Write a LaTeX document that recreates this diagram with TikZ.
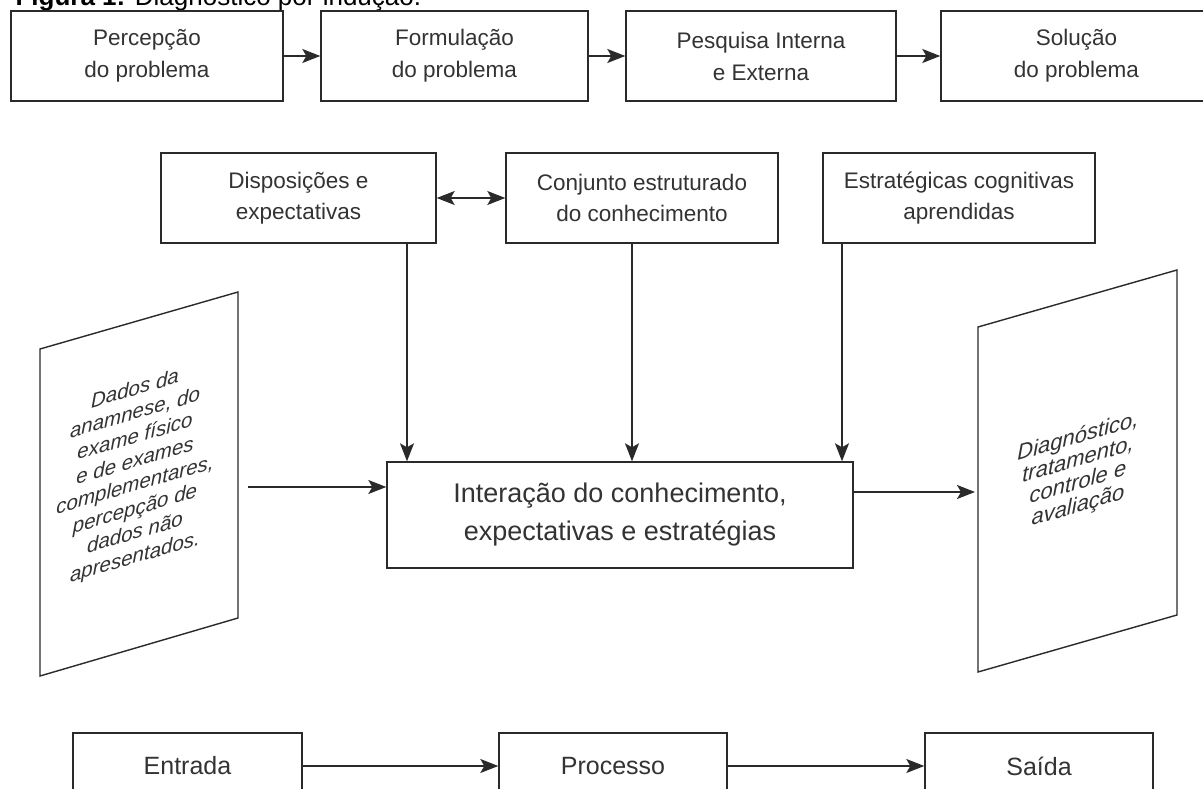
\documentclass[tikz,border=0pt]{standalone}
\usepackage{fontspec}
\setmainfont{Liberation Sans}
\usetikzlibrary{arrows.meta}
\definecolor{ink}{HTML}{2A2A2A}
\definecolor{txt}{HTML}{333333}
\tikzstyle{topbox}=[rectangle,draw=ink,line width=1.4pt,text=txt,
                    minimum height=90pt,align=center,inner sep=0pt,
                    font=\fontsize{22.5}{32}\selectfont]
\tikzstyle{midbox}=[topbox,font=\fontsize{22.5}{31}\selectfont]
\tikzstyle{lowbox}=[topbox,font=\fontsize{25}{30}\selectfont]
\tikzstyle{flow}=[draw=ink,line width=1.4pt,
                  -{Stealth[length=18pt,width=14pt,inset=4pt]}]
\tikzstyle{twoway}=[draw=ink,line width=1.4pt,
                  {Stealth[length=18pt,width=14pt,inset=4pt]}-{Stealth[length=18pt,width=14pt,inset=4pt]}]
\tikzstyle{slanted}=[align=center,text=txt,yslant=0.29,inner sep=0pt,
                     font=\itshape\fontsize{20.5}{24}\selectfont]

\begin{document}
\begin{tikzpicture}[x=1pt,y=-1pt]
    \useasboundingbox[fill=white] (0,0) rectangle (1203,789);
    \node[anchor=base west,font=\fontsize{26}{30}\selectfont] (titulo)
      at (12,6) {\textbf{Figura 1:} Diagnóstico por indução.};
    % linha de cima
    \node (perc) at (147,56)    [topbox,minimum width=272pt]{Percepção\\do problema};
    \node (form) at (454.5,56)  [topbox,minimum width=267pt]{Formulação\\do problema};
    \node (pesq) at (761,56)    [topbox,minimum width=270pt]{Pesquisa Interna\\e Externa};
    \node (sol)  at (1076.5,56) [topbox,minimum width=271pt]{Solução\\do problema};
    \draw[flow] (perc) -- (form);
    \draw[flow] (form) -- (pesq);
    \draw[flow] (pesq) -- (sol);
    % bloco do meio
    \node (disp) at (298.5,198) [midbox,minimum width=275pt]{Disposições e\\expectativas};
    \node (conj) at (642,198)   [midbox,minimum width=272pt]{Conjunto estruturado\\do conhecimento};
    \node (estr) at (959,198)   [midbox,minimum width=272pt]{Estratégicas cognitivas\\aprendidas};
    \node (inter) at (620,515)  [midbox,minimum width=466pt,minimum height=106pt,
      font=\fontsize{27}{38}\selectfont]{Interação do conhecimento,\\expectativas e estratégias};
    \draw[twoway] (disp) -- (conj);
    \draw[flow] ([xshift=108.5pt]disp.south) -- ([xshift=108.5pt]disp.south |- inter.north);
    \draw[flow] ([xshift=-10pt]conj.south) -- ([xshift=-10pt]conj.south |- inter.north);
    \draw[flow] ([xshift=-117pt]estr.south) -- ([xshift=-117pt]estr.south |- inter.north);
    % entrada e saida
    \draw[draw=ink,line width=1.4pt] (40,349) -- (238,292) -- (238,618) -- (40,676) -- cycle;
    \draw[draw=ink,line width=1.4pt] (978,327) -- (1177,270) -- (1177,615) -- (978,672) -- cycle;
    \node (dados) at (135,474) [slanted]{Dados da\\anamnese, do\\exame físico\\e de exames\\complementares,\\percepção de\\dados não\\apresentados.};
    \node (diag) at (1078,472) [slanted,font=\itshape\fontsize{22}{23}\selectfont]{Diagnóstico,\\tratamento,\\controle e\\avaliação};
    \coordinate (dadosout) at (248,487);
    \coordinate (diagin) at (975,492);
    \draw[flow] (dadosout) -- (dadosout -| inter.west);
    \draw[flow] (inter.east |- diagin) -- (diagin);
    % linha de baixo
    \node (entr) at (187.5,766) [lowbox,minimum width=229pt,minimum height=66pt]{Entrada};
    \node (proc) at (613,766)   [lowbox,minimum width=228pt,minimum height=66pt]{Processo};
    \node (said) at (1039,766)  [lowbox,minimum width=228pt,minimum height=66pt]{Saída};
    \draw[flow] (entr) -- (proc);
    \draw[flow] (proc) -- (said);
  \end{tikzpicture}
\end{document}
